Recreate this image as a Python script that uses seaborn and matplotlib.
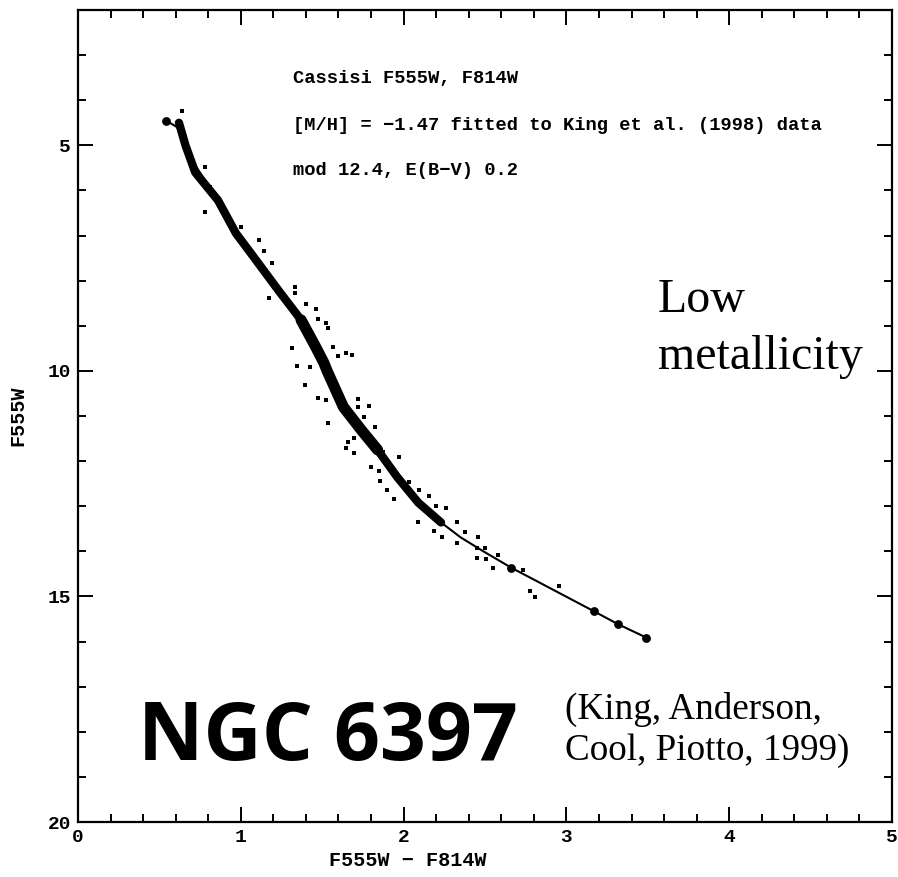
import numpy as np
import pandas as pd
import matplotlib
matplotlib.use("Agg")
import matplotlib.pyplot as plt
import seaborn as sns
from matplotlib.ticker import MultipleLocator

# ---------------- data ----------------
# isochrone (Cassisi, [M/H] = -1.47)
iso_color = [0.54, 0.61, 0.66, 0.86, 0.97, 1.08, 1.23, 1.37, 1.46, 1.51, 1.53,
             1.63, 1.74, 1.84, 1.96, 2.09, 2.23, 2.35, 2.49, 2.66, 3.17, 3.32, 3.49]
iso_mag = [4.45, 4.60, 5.11, 6.22, 6.95, 7.48, 8.21, 8.87, 9.47, 9.82, 10.00,
           10.80, 11.31, 11.75, 12.35, 12.92, 13.36, 13.69, 14.00, 14.36, 15.33, 15.62, 15.91]

# dense main-sequence ridge of observed stars
band_color = [0.62, 0.66, 0.72, 0.86, 0.97, 1.08, 1.23, 1.37, 1.46, 1.51, 1.53,
              1.63, 1.74, 1.84, 1.96, 2.09, 2.23]
band_mag = [4.50, 5.00, 5.60, 6.22, 6.95, 7.48, 8.21, 8.87, 9.47, 9.82, 10.00,
            10.80, 11.31, 11.75, 12.35, 12.92, 13.36]

# broader core of the ridge (turn-down region)
core_color = [1.37, 1.46, 1.51, 1.53, 1.63, 1.74, 1.84]
core_mag = [8.87, 9.47, 9.82, 10.00, 10.80, 11.31, 11.75]

# individual stars scattered around the ridge
star_color = [0.638, 0.779, 0.810, 0.779, 1.000, 1.110, 1.141, 1.190, 1.331, 1.331,
              1.172, 1.399, 1.460, 1.472, 1.521, 1.534, 1.313, 1.344, 1.423, 1.393,
              1.564, 1.595, 1.644, 1.681, 1.472, 1.521, 1.718, 1.718, 1.785, 1.534,
              1.755, 1.822, 1.656, 1.644, 1.693, 1.969, 1.798, 1.847, 1.693, 1.871,
              2.031, 1.853, 1.896, 1.939, 2.092, 2.153, 2.202, 2.258, 2.086, 2.184,
              2.233, 2.331, 2.380, 2.331, 2.460, 2.448, 2.503, 2.448, 2.509, 2.577,
              2.552, 2.736, 2.779, 2.810, 2.957]
star_mag = [4.25, 5.49, 5.93, 6.48, 6.81, 7.10, 7.35, 7.61, 8.14, 8.27,
            8.38, 8.52, 8.63, 8.85, 8.94, 9.05, 9.49, 9.89, 9.91, 10.31,
            9.47, 9.67, 9.60, 9.65, 10.60, 10.64, 10.62, 10.80, 10.77, 11.15,
            11.02, 11.24, 11.57, 11.70, 11.81, 11.90, 12.12, 12.23, 11.48, 11.79,
            12.46, 12.43, 12.65, 12.83, 12.63, 12.77, 12.99, 13.05, 13.36, 13.54,
            13.69, 13.36, 13.58, 13.81, 13.69, 13.92, 13.92, 14.14, 14.16, 14.09,
            14.38, 14.42, 14.89, 15.02, 14.76]

# isochrone grid points shown as large dots
bright_color = [0.54, 2.66, 3.17, 3.32, 3.49]
bright_mag = [4.45, 14.36, 15.33, 15.62, 15.91]

x_ticks = [0, 1, 2, 3, 4, 5]
y_ticks = [5, 10, 15, 20]

iso = pd.DataFrame({"color": iso_color, "mag": iso_mag})
band = pd.DataFrame({"color": band_color, "mag": band_mag})
core = pd.DataFrame({"color": core_color, "mag": core_mag})
stars = pd.DataFrame({"color": star_color, "mag": star_mag})
bright = pd.DataFrame({"color": bright_color, "mag": bright_mag})

# ---------------- figure ----------------
sns.set_theme(style="ticks")
plt.rcParams['font.family'] = ['Liberation Mono', 'DejaVu Sans Mono']
for k in ["text.color", "axes.labelcolor", "xtick.color", "ytick.color", "axes.edgecolor"]:
    plt.rcParams[k] = "black"

fig = plt.figure(figsize=(8.98, 8.77), dpi=100)
ax = fig.add_axes([0.0869, 0.0627, 0.9064, 0.9259])

sns.lineplot(data=band, x="color", y="mag", sort=False, estimator=None,
             color="black", lw=6.0, solid_capstyle="round", ax=ax)
sns.lineplot(data=core, x="color", y="mag", sort=False, estimator=None,
             color="black", lw=8.0, solid_capstyle="round", ax=ax)
sns.lineplot(data=iso, x="color", y="mag", sort=False, estimator=None,
             color="black", lw=1.5, ax=ax)
sns.scatterplot(data=stars, x="color", y="mag", color="black", s=10,
                marker="s", linewidth=0, ax=ax)
sns.scatterplot(data=bright, x="color", y="mag", color="black", s=40,
                linewidth=0, ax=ax)

ax.set_xlim(0, 5)
ax.set_ylim(20, 2)
ax.set_xticks(x_ticks)
ax.set_yticks(y_ticks)
ax.xaxis.set_minor_locator(MultipleLocator(0.2))
ax.yaxis.set_minor_locator(MultipleLocator(1))
ax.tick_params(which="both", direction="in", top=True, right=True,
               width=1.4, colors="black", labelsize=14)
ax.tick_params(which="major", length=10.5, pad=5)
ax.tick_params(which="minor", length=5.5)
for lab in ax.get_xticklabels() + ax.get_yticklabels():
    lab.set_fontweight("bold")
for sp in ax.spines.values():
    sp.set_linewidth(1.6)
    sp.set_color("black")

ax.set_xlabel("F555W − F814W", fontsize=14.5, fontweight="bold")
ax.set_ylabel("F555W", fontsize=14.5, fontweight="bold")
ax.xaxis.set_label_coords(0.405, -0.036)
ax.yaxis.set_label_coords(-0.062, 0.5)

# annotations
tkw = dict(fontsize=13.5, fontweight="bold", va="center", ha="left")
ax.text(1.32, 3.52, "Cassisi F555W, F814W", **tkw)
ax.text(1.32, 4.56, "[M/H] = −1.47 fitted to King et al. (1998) data", **tkw)
ax.text(1.32, 5.55, "mod 12.4, E(B−V) 0.2", **tkw)

serif = ["Liberation Serif", "DejaVu Serif"]
ax.text(3.56, 8.70, "Low", fontsize=34.5, family=serif, va="baseline")
ax.text(3.56, 9.96, "metallicity", fontsize=34.5, family=serif, va="baseline")

ax.text(0.37, 18.62, "NGC 6397", fontsize=58, fontweight="bold",
        family=["Open Sans", "DejaVu Sans"], va="baseline")
ax.text(2.99, 17.72, "(King, Anderson,", fontsize=26.7, family=serif, va="baseline")
ax.text(2.99, 18.62, "Cool, Piotto, 1999)", fontsize=26.7, family=serif, va="baseline")

fig.savefig("out.png", dpi=100)
